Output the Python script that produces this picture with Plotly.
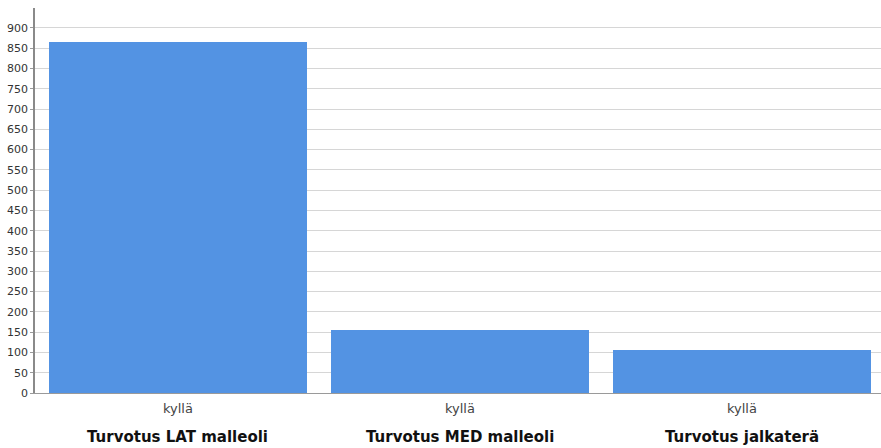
import plotly.graph_objects as go

# Counts of "kyllä" answers per swelling location
groups = ["Turvotus LAT malleoli", "Turvotus MED malleoli", "Turvotus jalkaterä"]
answer = ["kyllä", "kyllä", "kyllä"]
counts = [865, 155, 106]
y_ticks = list(range(0, 901, 50))

positions = list(range(len(groups)))
FONT = "DejaVu Sans, Verdana, sans-serif"

fig = go.Figure(
    go.Bar(
        x=positions,
        y=counts,
        width=0.918,
        marker=dict(color="#5393E3", line=dict(width=0)),
        hoverinfo="y",
    )
)

for pos, name in zip(positions, groups):
    fig.add_annotation(
        x=pos, xref="x", y=-0.114, yref="paper",
        text=f"<b>{name}</b>", showarrow=False,
        font=dict(family=FONT, size=15, color="#111111"),
        yanchor="middle",
    )

fig.update_layout(
    width=881, height=448,
    margin=dict(l=35, r=0, t=8, b=55),
    paper_bgcolor="white", plot_bgcolor="white",
    showlegend=False,
    bargap=0,
    font=dict(family=FONT, color="#333333"),
)
fig.update_xaxes(
    range=[-0.507, 2.493],
    tickmode="array", tickvals=positions, ticktext=answer,
    tickfont=dict(size=13, color="#444444"),
    ticks="", showgrid=False, zeroline=False,
    showline=True, linecolor="#9a9a9a", linewidth=1,
    ticklabelstandoff=3,
)
fig.update_yaxes(
    range=[0, 949],
    tickmode="array", tickvals=y_ticks,
    tickfont=dict(size=11, color="#333333"),
    ticks="outside", ticklen=3, tickcolor="#9a9a9a",
    showgrid=True, gridcolor="#d6d6d6", gridwidth=1,
    zeroline=False,
    showline=True, linecolor="#8a8a8a", linewidth=1.5,
)

fig.write_html("out.html")
